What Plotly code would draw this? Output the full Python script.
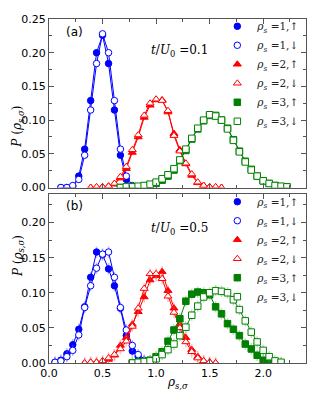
import plotly.graph_objects as go

# rho_{s,sigma} grid, k/18 for k = 0..40
rho = [0.000, 0.056, 0.111, 0.167, 0.222, 0.278, 0.333, 0.389, 0.444, 0.500,
       0.556, 0.611, 0.667, 0.722, 0.778, 0.833, 0.889, 0.944, 1.000, 1.056,
       1.111, 1.167, 1.222, 1.278, 1.333, 1.389, 1.444, 1.500, 1.556, 1.611,
       1.667, 1.722, 1.778, 1.833, 1.889, 1.944, 2.000, 2.056, 2.111, 2.167,
       2.222]

# panel (a): t/U0 = 0.1
blue_up_a = [0.000, 0.000, 0.001, 0.017, 0.057, 0.129, 0.200, 0.226, 0.184, 0.115, 0.048, 0.012, 0.002]
blue_dn_a = [0.000, 0.000, 0.003, 0.012, 0.048, 0.115, 0.184, 0.228, 0.200, 0.129, 0.057, 0.017, 0.003]
red_up_a = [0.000, 0.000, 0.001, 0.002, 0.005, 0.014, 0.028, 0.052, 0.075, 0.104, 0.122, 0.130,
            0.130, 0.112, 0.080, 0.056, 0.035, 0.018, 0.007, 0.003, 0.001, 0.000, 0.000]
red_dn_a = [0.000, 0.001, 0.001, 0.002, 0.006, 0.016, 0.031, 0.056, 0.078, 0.107, 0.125, 0.131,
            0.129, 0.114, 0.077, 0.054, 0.036, 0.020, 0.008, 0.003, 0.001, 0.001, 0.000]
green_up_a = [0.000, 0.000, 0.001, 0.001, 0.002, 0.004, 0.006, 0.011, 0.017, 0.026, 0.040, 0.055,
              0.072, 0.087, 0.099, 0.107, 0.107, 0.100, 0.088, 0.071, 0.054, 0.039, 0.027, 0.017,
              0.010, 0.006, 0.003, 0.001, 0.001]
green_dn_a = [0.000, 0.001, 0.001, 0.002, 0.003, 0.005, 0.008, 0.013, 0.019, 0.028, 0.041, 0.057,
              0.073, 0.088, 0.100, 0.108, 0.106, 0.100, 0.087, 0.070, 0.053, 0.038, 0.026, 0.017,
              0.010, 0.006, 0.003, 0.002, 0.001]

# panel (b): t/U0 = 0.5
blue_up_b = [0.001, 0.004, 0.013, 0.026, 0.048, 0.080, 0.122, 0.158, 0.154, 0.134, 0.110, 0.078,
             0.039, 0.017, 0.009, 0.003, 0.001]
blue_dn_b = [0.001, 0.003, 0.009, 0.018, 0.040, 0.079, 0.110, 0.135, 0.155, 0.158, 0.122, 0.079,
             0.047, 0.025, 0.012, 0.004, 0.001]
red_up_b = [0.000, 0.001, 0.001, 0.002, 0.005, 0.011, 0.025, 0.036, 0.055, 0.073, 0.094, 0.118,
            0.124, 0.130, 0.103, 0.078, 0.055, 0.036, 0.019, 0.009, 0.003, 0.001, 0.000]
red_dn_b = [0.000, 0.001, 0.001, 0.003, 0.007, 0.012, 0.020, 0.031, 0.052, 0.078, 0.106, 0.127,
            0.127, 0.120, 0.095, 0.072, 0.050, 0.030, 0.016, 0.007, 0.003, 0.001, 0.000]
green_up_b = [0.000, 0.001, 0.002, 0.004, 0.009, 0.016, 0.031, 0.047, 0.063, 0.088, 0.098, 0.101,
              0.100, 0.097, 0.080, 0.070, 0.056, 0.048, 0.039, 0.027, 0.020, 0.011, 0.004, 0.001,
              0.000, 0.000]
green_dn_b = [0.000, 0.001, 0.002, 0.003, 0.006, 0.012, 0.019, 0.027, 0.039, 0.051, 0.068, 0.081,
              0.094, 0.100, 0.103, 0.102, 0.100, 0.090, 0.076, 0.060, 0.044, 0.030, 0.018, 0.009,
              0.003, 0.001]

labels = ["<i>ρ</i><sub><i>s</i></sub> =1,↑", "<i>ρ</i><sub><i>s</i></sub> =1,↓",
          "<i>ρ</i><sub><i>s</i></sub> =2,↑", "<i>ρ</i><sub><i>s</i></sub> =2,↓",
          "<i>ρ</i><sub><i>s</i></sub> =3,↑", "<i>ρ</i><sub><i>s</i></sub> =3,↓"]

BLUE, RED, GREEN = "#0000ff", "#ff0000", "#008000"
ERR = {BLUE: "rgba(90,110,255,0.45)", RED: "rgba(255,110,110,0.45)", GREEN: "rgba(90,190,90,0.45)"}

panels = [
    ("x2", "y2", "legend", 0.004, [
        (rho[2:15], blue_up_a, BLUE, "circle", True),
        (rho[2:15], blue_dn_a, BLUE, "circle", False),
        (rho[7:30], red_up_a, RED, "triangle-up", True),
        (rho[7:30], red_dn_a, RED, "triangle-up", False),
        (rho[12:41], green_up_a, GREEN, "square", True),
        (rho[12:41], green_dn_a, GREEN, "square", False),
    ]),
    ("x", "y", "legend2", 0.008, [
        (rho[1:18], blue_up_b, BLUE, "circle", True),
        (rho[1:18], blue_dn_b, BLUE, "circle", False),
        (rho[6:29], red_up_b, RED, "triangle-up", True),
        (rho[6:29], red_dn_b, RED, "triangle-up", False),
        (rho[14:40], green_up_b, GREEN, "square", True),
        (rho[14:40], green_dn_b, GREEN, "square", False),
    ]),
]

fig = go.Figure()
for xa, ya, leg, err, series in panels:
    for i, (xs, ys, color, symbol, filled) in enumerate(series):
        fig.add_trace(go.Scatter(
            x=xs, y=ys, mode="lines", xaxis=xa, yaxis=ya, showlegend=False,
            line=dict(color=color, width=1),
            error_y=dict(type="constant", value=err, color=ERR[color], thickness=1.5, width=0),
        ))
        fig.add_trace(go.Scatter(
            x=xs, y=ys, mode="markers", xaxis=xa, yaxis=ya, name=labels[i], legend=leg,
            marker=dict(symbol=symbol, size=6.5 if symbol != "triangle-up" else 7,
                        color=color if filled else "white",
                        line=dict(color=color, width=1)),
        ))

axis_common = dict(
    showline=True, linecolor="#555", linewidth=1, mirror="ticks",
    ticks="inside", ticklen=5, tickcolor="#555",
    showgrid=False, zeroline=False,
    tickfont=dict(family="DejaVu Sans", size=11, color="black"),
)
minor_x = dict(dtick=0.25, ticks="inside", ticklen=3, tickcolor="#555")
minor_y = dict(dtick=0.025, ticks="inside", ticklen=3, tickcolor="#555")
legend_font = dict(family="DejaVu Serif", size=10.5, color="#222")

# the page body adds an 8 px offset, so the figure is 8 px smaller than the window
fig.update_layout(
    width=312, height=392,
    margin=dict(l=41, r=14, t=4, b=37),
    paper_bgcolor="white", plot_bgcolor="white",
    xaxis=dict(axis_common, domain=[0, 1], anchor="y", range=[0, 2.4], dtick=0.5, tickformat=".1f",
               minor=minor_x),
    yaxis=dict(axis_common, domain=[0, 0.49], anchor="x", range=[0, 0.24], dtick=0.05, tickformat=".2f",
               minor=minor_y),
    xaxis2=dict(axis_common, domain=[0, 1], anchor="y2", range=[0, 2.4], dtick=0.5, showticklabels=False,
                minor=minor_x),
    yaxis2=dict(axis_common, domain=[0.51, 1], anchor="x2", range=[0, 0.25], dtick=0.05, tickformat=".2f",
                minor=minor_y),
    legend=dict(x=0.655, y=1.021, xanchor="left", yanchor="top", bgcolor="rgba(0,0,0,0)",
                font=legend_font, tracegroupgap=0),
    legend2=dict(x=0.655, y=0.511, xanchor="left", yanchor="top", bgcolor="rgba(0,0,0,0)",
                 font=legend_font, tracegroupgap=0),
)

serif = dict(family="DejaVu Serif", size=12, color="black")
fig.add_annotation(text="(a)", x=0.24, y=0.231, xref="x2", yref="y2", showarrow=False,
                   font=dict(family="DejaVu Sans", size=12, color="black"))
fig.add_annotation(text="(b)", x=0.24, y=0.223, xref="x", yref="y", showarrow=False,
                   font=dict(family="DejaVu Sans", size=12, color="black"))
fig.add_annotation(text="<i>t</i>/<i>U</i><sub>0</sub> =0.1", x=1.22, y=0.203, xref="x2", yref="y2",
                   showarrow=False, font=serif)
fig.add_annotation(text="<i>t</i>/<i>U</i><sub>0</sub> =0.5", x=1.22, y=0.191, xref="x", yref="y",
                   showarrow=False, font=serif)
for ymid in (0.755, 0.245):
    fig.add_annotation(text="<i>P</i> (<i>ρ</i><sub><i>s,σ</i></sub>)", x=-0.158, y=ymid,
                       xref="paper", yref="paper", textangle=-90, showarrow=False, font=serif)
fig.add_annotation(text="<i>ρ</i><sub><i>s,σ</i></sub>", x=0.5, y=-0.058, xref="paper", yref="paper",
                   showarrow=False, yanchor="middle", font=serif)

fig.write_html("out.html")
